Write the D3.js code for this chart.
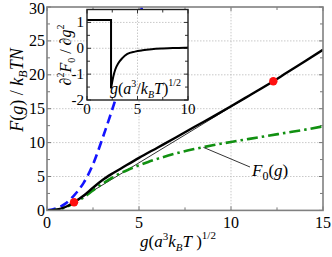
<!DOCTYPE html>
<html>
<head>
<meta charset="utf-8">
<script src="https://cdn.jsdelivr.net/npm/d3@7"></script>
<style>
  body { margin: 0; background: #fff; }
</style>
</head>
<body>
<div class="chart"></div>
<script>
// main panel curves
var gBlue = [0, 0.5, 1.0, 1.5, 2.0, 2.5, 3.0, 3.5, 4.0, 4.5, 5.0, 5.3];
var fBlue = [0, 0.3, 1.0, 2.3, 4.1, 6.8, 10.5, 14.5, 18.8, 23.5, 28.3, 31.5];

var gBlack = [0, 0.5, 1.0, 1.47, 2.0, 2.5, 3.0, 3.5, 4.0, 5.0, 6.0, 7.0, 8.0, 9.0, 10.0, 11.0, 12.3, 13.0, 14.0, 15.0];
var fBlack = [0, 0.12, 0.5, 1.2, 2.2, 3.35, 4.45, 5.35, 6.15, 7.75, 9.25, 10.75, 12.3, 13.8, 15.35, 16.95, 19.05, 20.25, 21.95, 23.7];

var gGreen = [0, 0.5, 1.0, 1.47, 2.0, 2.5, 3.0, 3.5, 4.0, 4.5, 5.0, 5.5, 6.0, 7.0, 8.0, 9.0, 10.0, 11.0, 12.0, 13.0, 14.0, 15.0];
var fGreen = [0, 0.1, 0.45, 1.1, 1.95, 2.95, 3.9, 4.75, 5.5, 6.1, 6.65, 7.15, 7.6, 8.4, 9.05, 9.6, 10.1, 10.55, 11.0, 11.45, 11.9, 12.4];

// common tangent points (red dots)
var gTangent = [1.47, 12.3];
var fTangent = [1.2, 19.05];

// inset: second derivative of F0
var gStep = [0, 2.38, 2.38];
var dStep = [1.09, 1.09, -1.55];
var gRecover = [2.38, 2.6, 2.8, 3.1, 3.5, 4.0, 4.75, 5.5, 6.4, 7.5, 8.5, 9.7, 10];
var dRecover = [-1.55, -1.1, -0.82, -0.58, -0.38, -0.22, -0.13, -0.08, -0.04, -0.01, 0.01, 0.02, 0.03];

var mainXTicks = [0, 5, 10, 15];
var mainYTicks = [0, 5, 10, 15, 20, 25, 30];
var insetXTicks = [0, 5, 10];
var insetYTicks = [-2, -1, 0, 1];

// find an installed serif face
function pickFont(cands) {
  var ctx = document.createElement("canvas").getContext("2d");
  var probe = "mmmmmmmmmmlli1WQ";
  ctx.font = "40px monospace";
  var base = ctx.measureText(probe).width;
  for (var i = 0; i < cands.length; i++) {
    ctx.font = "40px '" + cands[i] + "', monospace";
    if (Math.abs(ctx.measureText(probe).width - base) > 0.5) return "'" + cands[i] + "'";
  }
  return "serif";
}
var serif = pickFont(["Liberation Serif", "Times New Roman", "Tinos", "DejaVu Serif", "Noto Serif", "FreeSerif"]);

var W = 332, H = 257;
var svg = d3.select(".chart").append("svg")
    .attr("width", W).attr("height", H)
    .style("font-family", serif + ", serif");

var x = d3.scaleLinear().domain([0, 15]).range([47, 323]);
var y = d3.scaleLinear().domain([0, 30]).range([210.4, 7]);

svg.append("clipPath").attr("id", "clipMain")
  .append("rect")
    .attr("x", x(0)).attr("y", y(30))
    .attr("width", x(15) - x(0)).attr("height", y(0) - y(30));

// grid
svg.append("g").selectAll("line")
  .data([5, 10])
  .enter().append("line")
    .attr("x1", function(d) { return x(d); }).attr("x2", function(d) { return x(d); })
    .attr("y1", y(0)).attr("y2", y(30))
    .attr("stroke", "#bbb").attr("stroke-width", 0.8).attr("stroke-dasharray", "1.5,1.5");
svg.append("g").selectAll("line")
  .data([5, 10, 15, 20, 25])
  .enter().append("line")
    .attr("y1", function(d) { return y(d); }).attr("y2", function(d) { return y(d); })
    .attr("x1", x(0)).attr("x2", x(15))
    .attr("stroke", "#bbb").attr("stroke-width", 0.8).attr("stroke-dasharray", "1.5,1.5");

// ticks inside on all sides
function minorMajor(max, step) { return d3.range(0, max + 0.01, step); }
var tk = svg.append("g").attr("stroke", "#777").attr("stroke-width", 1);
minorMajor(15, 2.5).forEach(function(v) {
  var len = (v % 5 === 0) ? 4 : 3;
  tk.append("line").attr("x1", x(v)).attr("x2", x(v)).attr("y1", y(0)).attr("y2", y(0) - len);
  tk.append("line").attr("x1", x(v)).attr("x2", x(v)).attr("y1", y(30)).attr("y2", y(30) + len);
});
minorMajor(30, 2.5).forEach(function(v) {
  var len = (v % 5 === 0) ? 4 : 3;
  tk.append("line").attr("y1", y(v)).attr("y2", y(v)).attr("x1", x(0)).attr("x2", x(0) + len);
  tk.append("line").attr("y1", y(v)).attr("y2", y(v)).attr("x1", x(15)).attr("x2", x(15) - len);
});

// curves
var line = d3.line()
    .x(function(d) { return x(d[0]); })
    .y(function(d) { return y(d[1]); })
    .curve(d3.curveMonotoneX);

var plot = svg.append("g").attr("clip-path", "url(#clipMain)");

plot.append("path")
    .attr("d", line(d3.zip(gBlue, fBlue)))
    .attr("fill", "none").attr("stroke", "#1414ff").attr("stroke-width", 2.6)
    .attr("stroke-dasharray", "9,5");

plot.append("path")
    .attr("d", d3.line().x(function(d) { return x(d[0]); }).y(function(d) { return y(d[1]); })(d3.zip(gTangent, fTangent)))
    .attr("fill", "none").attr("stroke", "#000").attr("stroke-width", 0.8);

plot.append("path")
    .attr("d", line(d3.zip(gGreen, fGreen)))
    .attr("fill", "none").attr("stroke", "#119011").attr("stroke-width", 2.6)
    .attr("stroke-dasharray", "11,4,2.5,4");

plot.append("path")
    .attr("d", line(d3.zip(gBlack, fBlack)))
    .attr("fill", "none").attr("stroke", "#000").attr("stroke-width", 2.4);

plot.selectAll("circle")
  .data(d3.zip(gTangent, fTangent))
  .enter().append("circle")
    .attr("cx", function(d) { return x(d[0]); })
    .attr("cy", function(d) { return y(d[1]); })
    .attr("r", 4.2).attr("fill", "#ff1010");

// frame
svg.append("rect")
    .attr("x", x(0)).attr("y", y(30))
    .attr("width", x(15) - x(0)).attr("height", y(0) - y(30))
    .attr("fill", "none").attr("stroke", "#808080").attr("stroke-width", 1.6);

// tick labels
svg.append("g").selectAll("text")
  .data(mainXTicks)
  .enter().append("text")
    .attr("x", function(d) { return x(d); }).attr("y", 228)
    .attr("text-anchor", "middle").style("font-size", "16px")
    .text(function(d) { return d; });
svg.append("g").selectAll("text")
  .data(mainYTicks)
  .enter().append("text")
    .attr("x", 45).attr("y", function(d) { return Math.max(y(d) + 5.5, 14); })
    .attr("text-anchor", "end").style("font-size", "16px")
    .text(function(d) { return d; });

// F0(g) label with leader
svg.append("line")
    .attr("x1", x(8.5)).attr("y1", y(9.3))
    .attr("x2", 250).attr("y2", 167)
    .attr("stroke", "#000").attr("stroke-width", 0.8);
var f0 = svg.append("text").attr("x", 252).attr("y", 176).style("font-size", "17px");
f0.append("tspan").style("font-style", "italic").text("F");
f0.append("tspan").attr("dy", 4).style("font-size", "12px").text("0");
f0.append("tspan").attr("dy", -4).text("(");
f0.append("tspan").style("font-style", "italic").text("g");
f0.append("tspan").text(")");

// axis titles
var xl = svg.append("text").attr("x", 140).attr("y", 247).style("font-size", "17px");
xl.append("tspan").style("font-style", "italic").text("g");
xl.append("tspan").text("(");
xl.append("tspan").style("font-style", "italic").text("a");
xl.append("tspan").attr("dy", -7).style("font-size", "11px").text("3");
xl.append("tspan").attr("dy", 7).style("font-style", "italic").text("k");
xl.append("tspan").attr("dy", 4).style("font-size", "11px").style("font-style", "italic").text("B");
xl.append("tspan").attr("dy", -4).style("font-style", "italic").text("T");
xl.append("tspan").text(" )");
xl.append("tspan").attr("dy", -8).style("font-size", "11px").text("1/2");

var yl = svg.append("text")
    .attr("transform", "translate(23,90) rotate(-90)")
    .attr("text-anchor", "middle").style("font-size", "18px");
yl.append("tspan").style("font-style", "italic").text("F");
yl.append("tspan").text("(");
yl.append("tspan").style("font-style", "italic").text("g");
yl.append("tspan").text(") / ");
yl.append("tspan").style("font-style", "italic").text("k");
yl.append("tspan").attr("dy", 4).style("font-size", "12px").style("font-style", "italic").text("B");
yl.append("tspan").attr("dy", -4).style("font-style", "italic").text("TN");

// ---------- inset ----------
var xi = d3.scaleLinear().domain([0, 10]).range([87, 188]);
var yi = d3.scaleLinear().domain([-2, 1.5]).range([100, 9.5]);

svg.append("rect")
    .attr("x", xi(0)).attr("y", yi(1.5))
    .attr("width", xi(10) - xi(0)).attr("height", yi(-2) - yi(1.5))
    .attr("fill", "#fff");

var ig = svg.append("g");
ig.append("line").attr("x1", xi(5)).attr("x2", xi(5)).attr("y1", yi(-2)).attr("y2", yi(1.5))
  .attr("stroke", "#bbb").attr("stroke-width", 0.8).attr("stroke-dasharray", "1.5,1.5");
[-1, 0, 1].forEach(function(v) {
  ig.append("line").attr("y1", yi(v)).attr("y2", yi(v)).attr("x1", xi(0)).attr("x2", xi(10))
    .attr("stroke", "#bbb").attr("stroke-width", 0.8).attr("stroke-dasharray", "1.5,1.5");
});
var itk = svg.append("g").attr("stroke", "#333").attr("stroke-width", 1);
d3.range(0, 10.01, 2.5).forEach(function(v) {
  var len = (v % 5 === 0) ? 4 : 3;
  itk.append("line").attr("x1", xi(v)).attr("x2", xi(v)).attr("y1", yi(-2)).attr("y2", yi(-2) - len);
  itk.append("line").attr("x1", xi(v)).attr("x2", xi(v)).attr("y1", yi(1.5)).attr("y2", yi(1.5) + len);
});
d3.range(-2, 1.51, 0.5).forEach(function(v) {
  var len = (v % 1 === 0) ? 4 : 3;
  itk.append("line").attr("y1", yi(v)).attr("y2", yi(v)).attr("x1", xi(0)).attr("x2", xi(0) + len);
  itk.append("line").attr("y1", yi(v)).attr("y2", yi(v)).attr("x1", xi(10)).attr("x2", xi(10) - len);
});

var iline = d3.line()
    .x(function(d) { return xi(d[0]); })
    .y(function(d) { return yi(d[1]); });
svg.append("path")
    .attr("d", iline(d3.zip(gStep, dStep)))
    .attr("fill", "none").attr("stroke", "#000").attr("stroke-width", 2).attr("stroke-linejoin", "miter");
svg.append("path")
    .attr("d", iline.curve(d3.curveMonotoneX)(d3.zip(gRecover, dRecover)))
    .attr("fill", "none").attr("stroke", "#000").attr("stroke-width", 2);

svg.append("rect")
    .attr("x", xi(0)).attr("y", yi(1.5))
    .attr("width", xi(10) - xi(0)).attr("height", yi(-2) - yi(1.5))
    .attr("fill", "none").attr("stroke", "#222").attr("stroke-width", 1.4);

svg.append("g").selectAll("text")
  .data(insetXTicks)
  .enter().append("text")
    .attr("x", function(d) { return xi(d); }).attr("y", 114)
    .attr("text-anchor", "middle").style("font-size", "15px")
    .text(function(d) { return d; });
svg.append("g").selectAll("text")
  .data(insetYTicks)
  .enter().append("text")
    .attr("x", 84).attr("y", function(d) { return yi(d) + 5; })
    .attr("text-anchor", "end").style("font-size", "15px")
    .text(function(d) { return d; });

var il = svg.append("text").attr("x", 110).attr("y", 94).style("font-size", "16px");
il.append("tspan").style("font-style", "italic").text("g");
il.append("tspan").text("(");
il.append("tspan").style("font-style", "italic").text("a");
il.append("tspan").attr("dy", -7).style("font-size", "10px").text("3");
il.append("tspan").attr("dy", 7).text("/");
il.append("tspan").style("font-style", "italic").text("k");
il.append("tspan").attr("dy", 4).style("font-size", "10px").style("font-style", "italic").text("B");
il.append("tspan").attr("dy", -4).style("font-style", "italic").text("T");
il.append("tspan").text(")");
il.append("tspan").attr("dy", -8).style("font-size", "10px").text("1/2");

var iy = svg.append("text")
    .attr("transform", "translate(71,55) rotate(-90)")
    .attr("text-anchor", "middle").style("font-size", "16px");
iy.append("tspan").text("\u2202");
iy.append("tspan").attr("dy", -7).style("font-size", "10px").text("2");
iy.append("tspan").attr("dy", 7).style("font-style", "italic").text("F");
iy.append("tspan").attr("dy", 4).style("font-size", "10px").text("0");
iy.append("tspan").attr("dy", -4).text(" / \u2202");
iy.append("tspan").style("font-style", "italic").text("g");
iy.append("tspan").attr("dy", -7).style("font-size", "10px").text("2");
</script>
</body>
</html>
